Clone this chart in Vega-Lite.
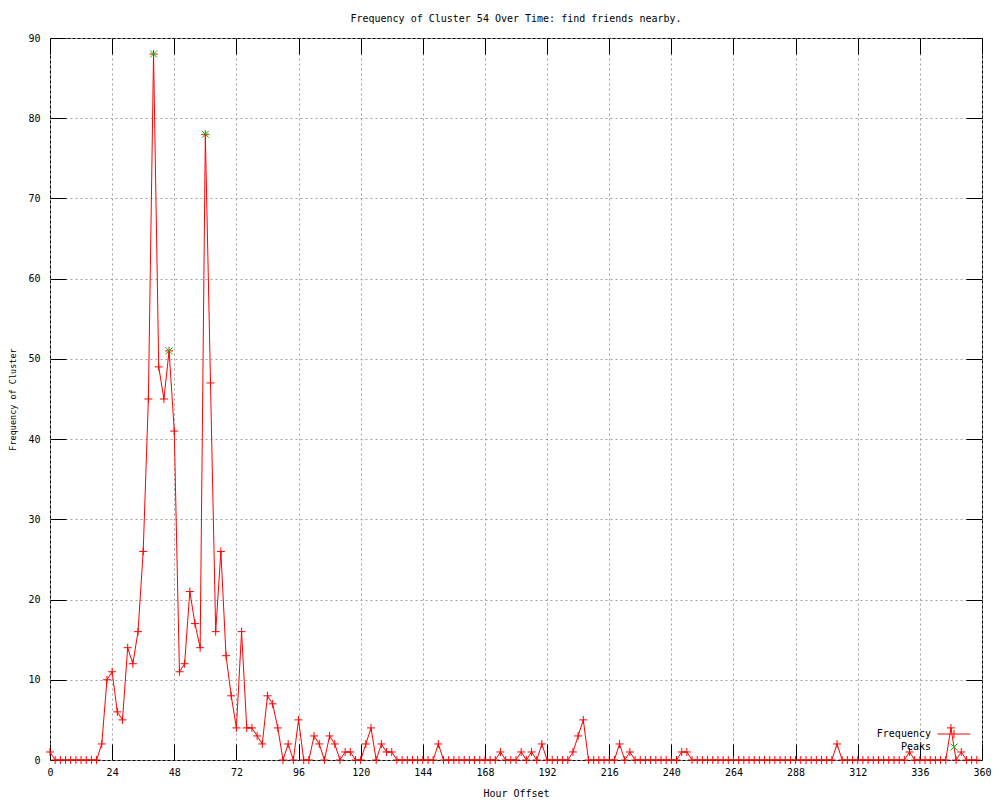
{
  "$schema": "https://vega.github.io/schema/vega-lite/v6.json",
  "width": 932,
  "height": 722,
  "autosize": {"type": "none"},
  "padding": {"left": 50, "top": 38, "right": 18, "bottom": 40},
  "background": "white",
  "title": {"text": "Frequency of Cluster 54 Over Time: find friends nearby.", "font": "DejaVu Sans Mono", "fontSize": 10, "fontWeight": "normal", "color": "black", "offset": 9, "anchor": "middle"},
  "config": {"view": {"stroke": "black", "strokeWidth": 1}, "font": "DejaVu Sans Mono"},
  "datasets": {
    "freq": [
      {"hour":0,"count":1},{"hour":2,"count":0},{"hour":4,"count":0},{"hour":6,"count":0},{"hour":8,"count":0},{"hour":10,"count":0},{"hour":12,"count":0},{"hour":14,"count":0},{"hour":16,"count":0},{"hour":18,"count":0},
      {"hour":20,"count":2},{"hour":22,"count":10},{"hour":24,"count":11},{"hour":26,"count":6},{"hour":28,"count":5},{"hour":30,"count":14},{"hour":32,"count":12},{"hour":34,"count":16},{"hour":36,"count":26},{"hour":38,"count":45},
      {"hour":40,"count":88},{"hour":42,"count":49},{"hour":44,"count":45},{"hour":46,"count":51},{"hour":48,"count":41},{"hour":50,"count":11},{"hour":52,"count":12},{"hour":54,"count":21},{"hour":56,"count":17},{"hour":58,"count":14},
      {"hour":60,"count":78},{"hour":62,"count":47},{"hour":64,"count":16},{"hour":66,"count":26},{"hour":68,"count":13},{"hour":70,"count":8},{"hour":72,"count":4},{"hour":74,"count":16},{"hour":76,"count":4},{"hour":78,"count":4},
      {"hour":80,"count":3},{"hour":82,"count":2},{"hour":84,"count":8},{"hour":86,"count":7},{"hour":88,"count":4},{"hour":90,"count":0},{"hour":92,"count":2},{"hour":94,"count":0},{"hour":96,"count":5},{"hour":98,"count":0},
      {"hour":100,"count":0},{"hour":102,"count":3},{"hour":104,"count":2},{"hour":106,"count":0},{"hour":108,"count":3},{"hour":110,"count":2},{"hour":112,"count":0},{"hour":114,"count":1},{"hour":116,"count":1},{"hour":118,"count":0},
      {"hour":120,"count":0},{"hour":122,"count":2},{"hour":124,"count":4},{"hour":126,"count":0},{"hour":128,"count":2},{"hour":130,"count":1},{"hour":132,"count":1},{"hour":134,"count":0},{"hour":136,"count":0},{"hour":138,"count":0},
      {"hour":140,"count":0},{"hour":142,"count":0},{"hour":144,"count":0},{"hour":146,"count":0},{"hour":148,"count":0},{"hour":150,"count":2},{"hour":152,"count":0},{"hour":154,"count":0},{"hour":156,"count":0},{"hour":158,"count":0},
      {"hour":160,"count":0},{"hour":162,"count":0},{"hour":164,"count":0},{"hour":166,"count":0},{"hour":168,"count":0},{"hour":170,"count":0},{"hour":172,"count":0},{"hour":174,"count":1},{"hour":176,"count":0},{"hour":178,"count":0},
      {"hour":180,"count":0},{"hour":182,"count":1},{"hour":184,"count":0},{"hour":186,"count":1},{"hour":188,"count":0},{"hour":190,"count":2},{"hour":192,"count":0},{"hour":194,"count":0},{"hour":196,"count":0},{"hour":198,"count":0},
      {"hour":200,"count":0},{"hour":202,"count":1},{"hour":204,"count":3},{"hour":206,"count":5},{"hour":208,"count":0},{"hour":210,"count":0},{"hour":212,"count":0},{"hour":214,"count":0},{"hour":216,"count":0},{"hour":218,"count":0},
      {"hour":220,"count":2},{"hour":222,"count":0},{"hour":224,"count":1},{"hour":226,"count":0},{"hour":228,"count":0},{"hour":230,"count":0},{"hour":232,"count":0},{"hour":234,"count":0},{"hour":236,"count":0},{"hour":238,"count":0},
      {"hour":240,"count":0},{"hour":242,"count":0},{"hour":244,"count":1},{"hour":246,"count":1},{"hour":248,"count":0},{"hour":250,"count":0},{"hour":252,"count":0},{"hour":254,"count":0},{"hour":256,"count":0},{"hour":258,"count":0},
      {"hour":260,"count":0},{"hour":262,"count":0},{"hour":264,"count":0},{"hour":266,"count":0},{"hour":268,"count":0},{"hour":270,"count":0},{"hour":272,"count":0},{"hour":274,"count":0},{"hour":276,"count":0},{"hour":278,"count":0},
      {"hour":280,"count":0},{"hour":282,"count":0},{"hour":284,"count":0},{"hour":286,"count":0},{"hour":288,"count":0},{"hour":290,"count":0},{"hour":292,"count":0},{"hour":294,"count":0},{"hour":296,"count":0},{"hour":298,"count":0},
      {"hour":300,"count":0},{"hour":302,"count":0},{"hour":304,"count":2},{"hour":306,"count":0},{"hour":308,"count":0},{"hour":310,"count":0},{"hour":312,"count":0},{"hour":314,"count":0},{"hour":316,"count":0},{"hour":318,"count":0},
      {"hour":320,"count":0},{"hour":322,"count":0},{"hour":324,"count":0},{"hour":326,"count":0},{"hour":328,"count":0},{"hour":330,"count":0},{"hour":332,"count":1},{"hour":334,"count":0},{"hour":336,"count":0},{"hour":338,"count":0},
      {"hour":340,"count":0},{"hour":342,"count":0},{"hour":344,"count":0},{"hour":346,"count":0},{"hour":348,"count":4},{"hour":350,"count":0},{"hour":352,"count":1},{"hour":354,"count":0},{"hour":356,"count":0},{"hour":358,"count":0}
    ],
    "peaks": [
      {"hour":40,"count":88},{"hour":46,"count":51},{"hour":60,"count":78}
    ]
  },
  "layer": [
    {
      "data": {"name": "freq"},
      "mark": {"type": "line", "strokeWidth": 1},
      "encoding": {
        "x": {"field": "hour", "type": "quantitative", "scale": {"domain": [0, 360], "nice": false, "zero": false},
          "axis": {"orient": "bottom", "values": [0,24,48,72,96,120,144,168,192,216,240,264,288,312,336,360], "tickSize": -16, "tickColor": "black", "tickWidth": 1, "labelPadding": 23, "labelFont": "DejaVu Sans Mono", "labelFontSize": 10, "labelColor": "black", "labelFlush": false, "labelOverlap": false, "domain": false, "grid": false, "title": "Hour Offset", "titleFont": "DejaVu Sans Mono", "titleFontSize": 10, "titleFontWeight": "normal", "titleColor": "black", "titlePadding": 11}},
        "y": {"field": "count", "type": "quantitative", "scale": {"domain": [0, 90], "nice": false},
          "axis": {"orient": "left", "values": [0,10,20,30,40,50,60,70,80,90], "tickSize": -16, "tickColor": "black", "tickWidth": 1, "labelPadding": 26, "labelFont": "DejaVu Sans Mono", "labelFontSize": 10, "labelColor": "black", "labelFlush": false, "labelOverlap": false, "domain": false, "grid": false, "title": "Frequency of Cluster", "titleFont": "DejaVu Sans Mono", "titleFontSize": 8.5, "titleFontWeight": "normal", "titleColor": "black", "titlePadding": 10}},
        "color": {"datum": "Frequency", "type": "nominal", "scale": {"domain": ["Frequency", "Peaks"], "range": ["#ff0000", "#00c000"]},
          "legend": {"title": null, "orient": "none", "legendX": 899, "legendY": 691, "padding": 0, "labelFont": "DejaVu Sans Mono", "labelFontSize": 10, "labelColor": "black", "labelAlign": "right", "labelOffset": -28, "rowPadding": 1, "symbolSize": 64, "symbolStrokeWidth": 1,
            "encode": {"symbols": {"update": {
              "shape": {"signal": "datum.value === 'Frequency' ? 'M-4.1,0H4.1M0,-1V1' : 'M-0.875,-0.875L0.875,0.875M-0.875,0.875L0.875,-0.875'"},
              "stroke": {"signal": "datum.value === 'Frequency' ? '#ff0000' : '#00c000'"},
              "fill": {"value": "transparent"},
              "strokeWidth": {"value": 1},
              "size": {"value": 64},
              "opacity": {"value": 1}}}}}}
      }
    },
    {
      "data": {"name": "freq"},
      "mark": {"type": "point", "shape": "M-1,0H1M0,-1V1", "size": 64, "filled": false, "strokeWidth": 1, "opacity": 1},
      "encoding": {
        "x": {"field": "hour", "type": "quantitative",
          "axis": {"orient": "top", "values": [0,24,48,72,96,120,144,168,192,216,240,264,288,312,336,360], "tickSize": -16, "tickColor": "black", "tickWidth": 1, "labels": false, "domain": false, "grid": true, "gridColor": "#a0a0a0", "gridDash": [2, 3], "gridWidth": 1, "title": null}},
        "y": {"field": "count", "type": "quantitative",
          "axis": {"orient": "right", "values": [0,10,20,30,40,50,60,70,80,90], "tickSize": -16, "tickColor": "black", "tickWidth": 1, "labels": false, "domain": false, "grid": true, "gridColor": "#a0a0a0", "gridDash": [2, 3], "gridWidth": 1, "title": null}},
        "color": {"datum": "Frequency", "type": "nominal"}
      }
    },
    {
      "data": {"name": "peaks"},
      "mark": {"type": "point", "shape": "M-1,-1L1,1M-1,1L1,-1", "size": 49, "filled": false, "strokeWidth": 1, "opacity": 1},
      "encoding": {
        "x": {"field": "hour", "type": "quantitative", "axis": null},
        "y": {"field": "count", "type": "quantitative", "axis": null},
        "color": {"datum": "Peaks", "type": "nominal"}
      }
    }
  ],
  "resolve": {"axis": {"x": "independent", "y": "independent"}}
}
